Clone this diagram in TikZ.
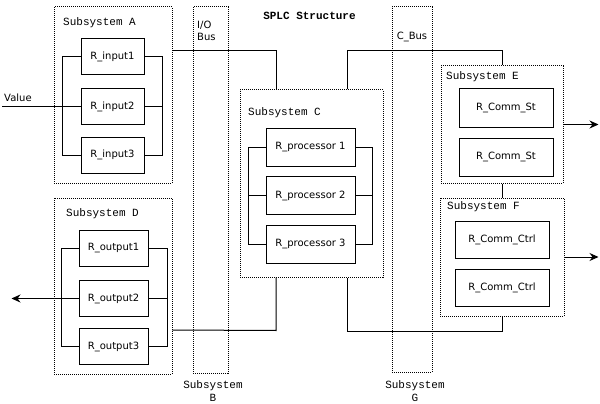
\documentclass[tikz,border=0pt]{standalone}
\usepackage{fontspec}
\setmainfont{DejaVu Sans}
\setmonofont{Liberation Mono}
\usetikzlibrary{positioning, arrows.meta}

\begin{document}
\begin{tikzpicture}[
  x=1pt, y=-1pt,
  font=\fontsize{10}{12}\selectfont,
  unit/.style={draw, line width=1pt, inner sep=0pt},
  subsys/.style={draw, line width=1pt, dash pattern=on 1pt off 1pt, inner sep=0pt},
  caption/.style={font=\ttfamily\fontsize{11}{13}\selectfont, inner sep=0pt},
  link/.style={line width=1pt},
  >={Stealth[length=9pt, width=8pt]}
]
\useasboundingbox (0,0) rectangle (600,404);

% dotted frames
\node[subsys, minimum width=118pt, minimum height=176pt] (subA) at (113,95) {};
\node[subsys, minimum width=118pt, minimum height=176pt] (subD) at (113,286) {};
\node[subsys, minimum width=35pt, minimum height=366pt] (iobus) at (210.5,190) {};
\node[subsys, minimum width=40pt, minimum height=365pt] (cbus) at (412,189.5) {};
\node[subsys, minimum width=143pt, minimum height=187pt] (subC) at (311.5,183.5) {};
\node[subsys, minimum width=122pt, minimum height=117pt] (subE) at (502,124.5) {};
\node[subsys, minimum width=124pt, minimum height=118pt] (subF) at (502,257) {};

% captions
\node[caption, font=\ttfamily\bfseries\fontsize{11}{13}\selectfont] (title) at (309.5,16) {SPLC Structure};
\node[caption, anchor=west] (capA) at (63,23) {Subsystem A};
\node[caption, anchor=west] (capD) at (66,214) {Subsystem D};
\node[caption, anchor=west] (capC) at (248,113) {Subsystem C};
\node[caption, anchor=west] (capE) at (446,77) {Subsystem E};
\node[caption, anchor=west] (capF) at (447,207) {Subsystem F};
\node[caption, align=center] (capB) at (213,391) {Subsystem\\B};
\node[caption, align=center] (capG) at (415,391) {Subsystem\\G};
\node[align=left, anchor=north west, inner sep=0pt] (iolabel) at (197,21) {I/O\\Bus};
\node[inner sep=0pt] (cblabel) at (412,37) {C\_Bus};

% redundant units
\node[unit, minimum width=63pt, minimum height=36pt] (in1) at (112.5,57) {R\_input1};
\node[unit, minimum width=63pt, minimum height=36pt] (in2) at (112.5,106.5) {R\_input2};
\node[unit, minimum width=63pt, minimum height=36pt] (in3) at (112.5,155) {R\_input3};
\node[unit, minimum width=69pt, minimum height=36pt] (out1) at (113.5,248) {R\_output1};
\node[unit, minimum width=69pt, minimum height=36pt] (out2) at (113.5,298.5) {R\_output2};
\node[unit, minimum width=69pt, minimum height=36pt] (out3) at (113.5,346.5) {R\_output3};
\node[unit, minimum width=89pt, minimum height=38pt] (proc1) at (310.5,147) {R\_processor 1};
\node[unit, minimum width=89pt, minimum height=38pt] (proc2) at (310.5,195.5) {R\_processor 2};
\node[unit, minimum width=89pt, minimum height=38pt] (proc3) at (310.5,244) {R\_processor 3};
\node[unit, minimum width=94pt, minimum height=38pt] (st1) at (506,108) {R\_Comm\_St};
\node[unit, minimum width=94pt, minimum height=38pt] (st2) at (506,157) {R\_Comm\_St};
\node[unit, minimum width=94pt, minimum height=37pt] (ctrl1) at (502,239.5) {R\_Comm\_Ctrl};
\node[unit, minimum width=94pt, minimum height=37pt] (ctrl2) at (502,288) {R\_Comm\_Ctrl};

% input side
\coordinate (vin) at (2,106.5);
\node[anchor=south west, inner sep=0pt] (value) at (4,102) {Value};
\draw[link] (vin) -- (in2.west);
\draw[link] (in1.west) -- ++(-18,0) |- (in3.west);
\draw[link] (in1.east) -- ++(18,0) |- (in3.east);
\draw[link] (in2.east) -- ++(18,0);

% output side
\draw[link] (out1.west) -- ++(-17,0) |- (out3.west);
\draw[link] (out2.west) -- ++(-17,0);
\draw[link] (out1.east) -- ++(19,0) |- (out3.east);
\draw[link] (out2.east) -- ++(19,0);
\draw[link, ->] (out2.west) -- ++(-67,0);

% processors
\draw[link] (proc1.west) -- ++(-17,0) |- (proc3.west);
\draw[link] (proc2.west) -- ++(-17,0);
\draw[link] (proc1.east) -- ++(17,0) |- (proc3.east);
\draw[link] (proc2.east) -- ++(17,0);

% buses
\draw[link] (subA.east |- 0,51) -| ([xshift=-35.5pt]subC.north);
\draw[link] ([xshift=35.5pt]subC.north) -- ++(0,-39) -| (subE.north);
\draw[link] (subE.south) -- (subF.north);
\draw[link] (subF.south) -- ++(0,15) -| ([xshift=35.5pt]subC.south);
\draw[link] ([xshift=-35.5pt]subC.south) -- ++(0,53) -- (subD.east |- 0,330);

% outputs of E and F
\draw[link, ->] (subE.east) -- ++(35,0);
\draw[link, ->] (subF.east) -- ++(34,0);
\end{tikzpicture}
\end{document}
